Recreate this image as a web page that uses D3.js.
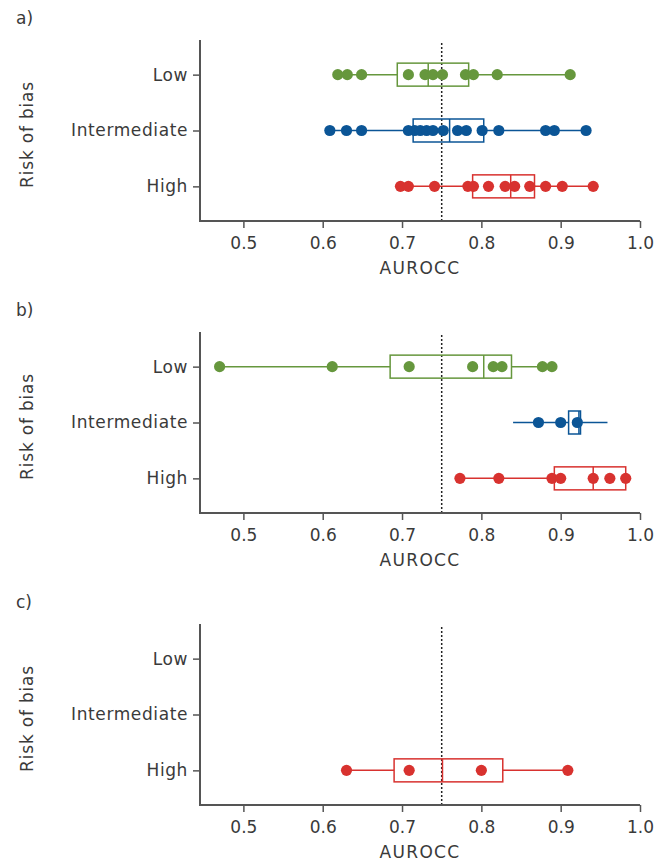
<!DOCTYPE html>
<html>
<head>
<meta charset="utf-8">
<script src="https://cdn.jsdelivr.net/npm/d3@7"></script>
<style>
  body { margin: 0; background: #fff; }
  text { font-family: "DejaVu Sans", sans-serif; fill: #3a3a3a; }
</style>
</head>
<body>
<div id="chart"></div>
<script>
const categories = ['Low', 'Intermediate', 'High'];
const panelLabels = ['a)', 'b)', 'c)'];
const xTicks = [0.5, 0.6, 0.7, 0.8, 0.9, 1.0];
const refLine = 0.75;

const colorLow = '#66973d';
const colorInter = '#0b5596';
const colorHigh = '#d8322f';

// panel a
const aLow = [0.619, 0.631, 0.649, 0.708, 0.729, 0.739, 0.751, 0.780, 0.790, 0.820, 0.912];
const aInter = [0.609, 0.630, 0.649, 0.708, 0.716, 0.723, 0.731, 0.739, 0.752, 0.770, 0.781, 0.801, 0.822, 0.881, 0.892, 0.932];
const aHigh = [0.698, 0.708, 0.741, 0.783, 0.790, 0.809, 0.830, 0.842, 0.861, 0.881, 0.902, 0.941];
// box stats: whisker low, q1, median, q3, whisker high
const aLowBox = [0.619, 0.694, 0.733, 0.784, 0.912];
const aInterBox = [0.609, 0.714, 0.760, 0.803, 0.932];
const aHighBox = [0.698, 0.789, 0.837, 0.867, 0.941];

// panel b
const bLow = [0.470, 0.612, 0.709, 0.789, 0.815, 0.826, 0.877, 0.889];
const bInter = [0.872, 0.900, 0.921];
const bHigh = [0.773, 0.822, 0.889, 0.900, 0.941, 0.962, 0.982];
const bLowBox = [0.470, 0.685, 0.803, 0.838, 0.889];
const bInterBox = [0.840, 0.910, 0.923, 0.925, 0.959];
const bHighBox = [0.773, 0.892, 0.941, 0.982, 0.982];

// panel c
const cHigh = [0.630, 0.709, 0.800, 0.909];
const cHighBox = [0.630, 0.690, 0.751, 0.827, 0.909];

const panels = [
  [
    { cat: 'Low', color: colorLow, pts: aLow, box: aLowBox },
    { cat: 'Intermediate', color: colorInter, pts: aInter, box: aInterBox },
    { cat: 'High', color: colorHigh, pts: aHigh, box: aHighBox }
  ],
  [
    { cat: 'Low', color: colorLow, pts: bLow, box: bLowBox },
    { cat: 'Intermediate', color: colorInter, pts: bInter, box: bInterBox },
    { cat: 'High', color: colorHigh, pts: bHigh, box: bHighBox }
  ],
  [
    { cat: 'High', color: colorHigh, pts: cHigh, box: cHighBox }
  ]
];

const width = 670;
const height = 862;
const left = 200, right = 640;
const panelTop = 40, panelH = 181, panelStep = 292;
const fontSize = 17;

const svg = d3.select('#chart').append('svg')
  .attr('width', width)
  .attr('height', height);

const x = d3.scaleLinear().domain([0.4453, 1.0]).range([left, right]);

panels.forEach((series, i) => {
  const top = panelTop + i * panelStep;
  const bottom = top + panelH;
  const g = svg.append('g');

  const y = d3.scalePoint().domain(categories).range([top, bottom]).padding(0.62);

  // panel letter
  g.append('text')
    .attr('x', 16).attr('y', top - 16)
    .attr('font-size', fontSize)
    .text(panelLabels[i]);

  // reference line
  g.append('line')
    .attr('x1', x(refLine)).attr('x2', x(refLine))
    .attr('y1', top + 3).attr('y2', bottom)
    .attr('stroke', '#222').attr('stroke-width', 1.5)
    .attr('stroke-dasharray', '2,2');

  // axes
  const yAxis = g.append('g')
    .attr('transform', `translate(${left},0)`)
    .call(d3.axisLeft(y).tickSizeOuter(0).tickSize(7).tickPadding(5));
  const xAxis = g.append('g')
    .attr('transform', `translate(0,${bottom})`)
    .call(d3.axisBottom(x).tickValues(xTicks).tickFormat(d3.format('.1f')).tickSizeOuter(0).tickSize(7).tickPadding(9));

  [yAxis, xAxis].forEach(ax => {
    ax.select('.domain').attr('stroke', '#555').attr('stroke-width', 2);
    ax.selectAll('.tick line').attr('stroke', '#555').attr('stroke-width', 1.5);
    ax.selectAll('.tick text').attr('font-size', fontSize).attr('fill', '#3a3a3a')
      .style('font-family', '"DejaVu Sans", sans-serif');
  });
  yAxis.selectAll('.tick text').style('letter-spacing', '0.6px');
  yAxis.select('.domain').attr('d', `M0,${top}V${bottom + 1}`);
  xAxis.select('.domain').attr('d', `M${left - 1},0H${right}`);

  g.append('text')
    .attr('x', (left + right) / 2).attr('y', bottom + 53)
    .attr('text-anchor', 'middle')
    .attr('font-size', fontSize)
    .style('letter-spacing', '1.3px')
    .text('AUROCC');

  g.append('text')
    .attr('transform', `translate(33,${(top + bottom) / 2 + 4}) rotate(-90)`)
    .attr('text-anchor', 'middle')
    .attr('font-size', fontSize)
    .style('letter-spacing', '0.8px')
    .text('Risk of bias');

  const boxH = 23;
  series.forEach(s => {
    const cy = y(s.cat);
    const [lo, q1, med, q3, hi] = s.box;
    const sg = g.append('g');
    sg.append('line')
      .attr('x1', x(lo)).attr('x2', x(q1)).attr('y1', cy).attr('y2', cy)
      .attr('stroke', s.color).attr('stroke-width', 1.5);
    sg.append('line')
      .attr('x1', x(q3)).attr('x2', x(hi)).attr('y1', cy).attr('y2', cy)
      .attr('stroke', s.color).attr('stroke-width', 1.5);
    sg.append('rect')
      .attr('x', x(q1)).attr('y', cy - boxH / 2)
      .attr('width', x(q3) - x(q1)).attr('height', boxH)
      .attr('fill', 'none').attr('stroke', s.color).attr('stroke-width', 1.5);
    sg.append('line')
      .attr('x1', x(med)).attr('x2', x(med))
      .attr('y1', cy - boxH / 2).attr('y2', cy + boxH / 2)
      .attr('stroke', s.color).attr('stroke-width', 1.5);
    sg.selectAll('circle')
      .data(s.pts)
      .join('circle')
      .attr('cx', d => x(d))
      .attr('cy', cy)
      .attr('r', 5.6)
      .attr('fill', s.color);
  });
});
</script>
</body>
</html>
